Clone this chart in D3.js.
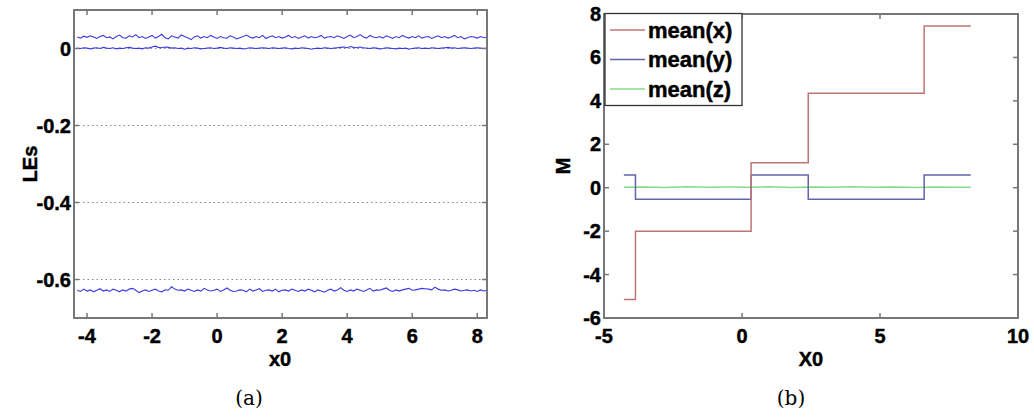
<!DOCTYPE html>
<html><head><meta charset="utf-8">
<script src="https://cdn.jsdelivr.net/npm/d3@7"></script>
<style>
body{margin:0;background:#fff;}
</style></head>
<body><svg id="c" width="1034" height="419"></svg>
<script>
// ---------- Panel (a) data ----------
const leX0Start = -4.3, leX0Step = 0.1;
const le1 = [0.030,0.027,0.032,0.029,0.033,0.030,0.026,0.031,0.034,0.028,
0.030,0.025,0.031,0.035,0.028,0.027,0.033,0.030,0.036,0.028,
0.031,0.026,0.030,0.034,0.027,0.031,0.037,0.028,0.025,0.033,
0.030,0.027,0.035,0.031,0.028,0.023,0.030,0.033,0.027,0.031,
0.028,0.034,0.030,0.026,0.031,0.028,0.027,0.033,0.030,0.025,
0.028,0.031,0.035,0.030,0.027,0.031,0.028,0.034,0.026,0.030,
0.033,0.028,0.031,0.027,0.030,0.034,0.028,0.031,0.026,0.030,
0.033,0.027,0.031,0.028,0.030,0.034,0.027,0.030,0.031,0.028,
0.033,0.030,0.026,0.031,0.035,0.028,0.031,0.036,0.030,0.027,
0.034,0.030,0.028,0.031,0.027,0.033,0.030,0.026,0.031,0.028,
0.034,0.030,0.027,0.031,0.028,0.033,0.027,0.030,0.031,0.026,
0.030,0.033,0.028,0.031,0.027,0.030,0.034,0.028,0.031,0.025,
0.028,0.031,0.030,0.027,0.031,0.028,0.030];
const le2 = [0.001,0.000,0.002,0.001,-0.001,0.001,0.002,0.000,0.003,0.001,
0.000,0.002,-0.001,0.001,0.000,0.002,0.003,0.001,0.000,0.001,
-0.001,0.002,0.001,0.004,0.006,0.003,0.002,0.004,0.003,0.001,
0.002,0.000,0.001,-0.002,0.001,0.000,0.002,0.001,-0.001,0.000,
0.001,0.002,0.000,0.001,0.003,0.001,0.000,0.002,0.001,0.000,
0.001,-0.001,0.000,0.002,0.001,0.000,0.001,0.002,0.001,0.000,
0.002,0.001,0.000,0.001,0.002,0.000,-0.001,0.001,0.000,0.002,
0.001,0.000,-0.002,0.000,0.001,0.000,0.002,0.001,0.000,0.001,
0.002,0.003,0.004,0.002,0.005,0.003,0.002,0.004,0.002,0.001,
0.000,0.002,0.001,-0.001,0.000,0.002,0.001,0.000,-0.001,0.001,
0.000,0.001,-0.002,0.000,0.001,0.002,0.000,0.001,0.000,0.002,
0.001,0.000,0.001,0.002,0.003,0.001,0.002,0.000,0.001,0.002,
0.001,0.000,0.001,0.002,0.001,0.000,0.001];
const le3 = [-0.628,-0.631,-0.625,-0.630,-0.627,-0.632,-0.628,-0.624,-0.630,-0.627,
-0.631,-0.625,-0.628,-0.632,-0.627,-0.630,-0.625,-0.623,-0.628,-0.634,
-0.630,-0.627,-0.631,-0.628,-0.625,-0.630,-0.632,-0.627,-0.628,-0.619,
-0.625,-0.628,-0.627,-0.630,-0.625,-0.628,-0.631,-0.627,-0.630,-0.623,
-0.627,-0.630,-0.628,-0.625,-0.631,-0.627,-0.622,-0.628,-0.631,-0.630,
-0.627,-0.628,-0.632,-0.625,-0.630,-0.627,-0.624,-0.631,-0.628,-0.627,
-0.630,-0.625,-0.632,-0.628,-0.627,-0.630,-0.625,-0.628,-0.631,-0.627,
-0.630,-0.625,-0.628,-0.632,-0.627,-0.630,-0.633,-0.628,-0.625,-0.630,
-0.627,-0.621,-0.628,-0.631,-0.627,-0.630,-0.625,-0.628,-0.631,-0.627,
-0.623,-0.630,-0.627,-0.628,-0.625,-0.622,-0.628,-0.631,-0.627,-0.630,
-0.627,-0.625,-0.623,-0.628,-0.627,-0.625,-0.623,-0.624,-0.625,-0.627,
-0.620,-0.625,-0.628,-0.627,-0.630,-0.628,-0.625,-0.627,-0.630,-0.628,
-0.627,-0.630,-0.628,-0.631,-0.627,-0.630,-0.628];
const aXTicks = [-4,-2,0,2,4,6,8];
const aYTicks = [0,-0.2,-0.4,-0.6];

// ---------- Panel (b) data ----------
const bBreaks = [-4.28,-3.86,0.33,2.40,6.60,8.29];
const meanX = [-5.15,-2.00,1.15,4.35,7.45];
const meanY = [0.58,-0.53,0.58,-0.53,0.58];
const meanZX = [-4.28,-3.5,-2.8,-2.0,-1.2,-0.5,0.3,1.0,1.8,2.5,3.2,4.0,4.8,5.5,6.3,7.0,7.7,8.29];
const meanZ = [0.02,0.03,0.01,0.04,0.02,0.03,0.02,0.04,0.01,0.03,0.02,0.04,0.02,0.03,0.01,0.03,0.02,0.02];
const bXTicks = [-5,0,5,10];
const bYTicks = [-6,-4,-2,0,2,4,6,8];
const legendLabels = ["mean(x)","mean(y)","mean(z)"];

const svg = d3.select("#c");
const axisCol = "#777";
const SANS = "'Liberation Sans', Arial, Helvetica, sans-serif";

function txt(g, s, size){
  return g.append("text").attr("font-family",SANS).attr("font-weight","bold")
    .style("font-family",SANS).style("font-weight","700").attr("font-size",size)
    .attr("fill","#000").attr("stroke","#000").attr("stroke-width",0.45).text(s);
}

function frame(g, x, y, xt, yt, fmtY){
  const [x0,x1]=x.range(), [y1,y0]=y.range();
  const t=5;
  xt.forEach(v=>{
    g.append("line").attr("x1",x(v)).attr("x2",x(v)).attr("y1",y1).attr("y2",y1-t).attr("stroke",axisCol).attr("stroke-width",1.5);
    g.append("line").attr("x1",x(v)).attr("x2",x(v)).attr("y1",y0).attr("y2",y0+t).attr("stroke",axisCol).attr("stroke-width",1.5);
    txt(g, String(v).replace("−","-"), 20).attr("x",x(v)).attr("y",y1+25).attr("text-anchor","middle");
  });
  yt.forEach(v=>{
    g.append("line").attr("x1",x0).attr("x2",x0+t).attr("y1",y(v)).attr("y2",y(v)).attr("stroke",axisCol).attr("stroke-width",1.5);
    g.append("line").attr("x1",x1).attr("x2",x1-t).attr("y1",y(v)).attr("y2",y(v)).attr("stroke",axisCol).attr("stroke-width",1.5);
    txt(g, fmtY(v), 20).attr("x",x0-3).attr("y",y(v)+7).attr("text-anchor","end");
  });
  g.append("rect").attr("x",x0).attr("y",y0).attr("width",x1-x0).attr("height",y1-y0)
    .attr("fill","none").attr("stroke",axisCol).attr("stroke-width",2);
}

// ---------- Panel (a) ----------
{
  const x = d3.scaleLinear().domain([-4.4,8.3]).range([74,487]);
  const y = d3.scaleLinear().domain([-0.7,0.1]).range([318,10]);
  const g = svg.append("g");
  aYTicks.forEach(v=>{
    g.append("line").attr("x1",x.range()[0]).attr("x2",x.range()[1]).attr("y1",y(v)).attr("y2",y(v))
      .attr("stroke","#888").attr("stroke-width",1).attr("stroke-dasharray","1.5,3");
  });
  const xs = le1.map((_,i)=>leX0Start+i*leX0Step);
  const line = d3.line().x((d,i)=>x(xs[i])).y(d=>y(d));
  [le1,le2,le3].forEach(s=>{
    g.append("path").attr("d",line(s)).attr("fill","none").attr("stroke","#3a3ae0").attr("stroke-width",1.1);
  });
  frame(g,x,y,aXTicks,aYTicks,v=>v===0?"0":d3.format(".1f")(v).replace("−","-"));
  txt(g,"x0",20).attr("x",280).attr("y",366).attr("text-anchor","middle");
  txt(g,"LEs",20).attr("transform","translate(37,164) rotate(-90)").attr("text-anchor","middle");
  g.append("text").attr("x",249).attr("y",405).attr("text-anchor","middle").attr("font-size",20)
    .style("font-family","'DejaVu Serif','Liberation Serif',serif").style("font-weight","normal").text("(a)");
}

// ---------- Panel (b) ----------
{
  const x = d3.scaleLinear().domain([-5,10]).range([604,1018]);
  const y = d3.scaleLinear().domain([-6,8]).range([318,14]);
  const g = svg.append("g");
  const step = d3.line().curve(d3.curveStepAfter).x(d=>x(d[0])).y(d=>y(d[1]));
  const toPts = vals => bBreaks.map((b,i)=>[b, vals[Math.min(i,vals.length-1)]]);
  const zl = d3.line().x((d,i)=>x(meanZX[i])).y(d=>y(d));
  g.append("path").attr("d",zl(meanZ)).attr("fill","none").attr("stroke","#86dc86").attr("stroke-width",1.5);
  g.append("path").attr("d",step(toPts(meanY))).attr("fill","none").attr("stroke","#6464aa").attr("stroke-width",1.5);
  g.append("path").attr("d",step(toPts(meanX))).attr("fill","none").attr("stroke","#c07474").attr("stroke-width",1.5);
  frame(g,x,y,bXTicks,bYTicks,v=>String(v));
  const lg = g.append("g");
  lg.append("rect").attr("x",605).attr("y",13.5).attr("width",137).attr("height",92)
    .attr("fill","#fff").attr("stroke","#333").attr("stroke-width",1.3);
  const cols = ["#c07474","#6464aa","#86dc86"];
  legendLabels.forEach((t,i)=>{
    const yy = 30 + i*29.5;
    lg.append("line").attr("x1",610).attr("x2",645).attr("y1",yy).attr("y2",yy).attr("stroke",cols[i]).attr("stroke-width",1.5);
    txt(lg,t,22).attr("x",648).attr("y",yy+7.5);
  });
  txt(g,"X0",20).attr("x",811).attr("y",366).attr("text-anchor","middle");
  txt(g,"M",20).attr("transform","translate(570,166) rotate(-90)").attr("text-anchor","middle");
  g.append("text").attr("x",791).attr("y",405).attr("text-anchor","middle").attr("font-size",20)
    .style("font-family","'DejaVu Serif','Liberation Serif',serif").style("font-weight","normal").text("(b)");
}
</script></body></html>
